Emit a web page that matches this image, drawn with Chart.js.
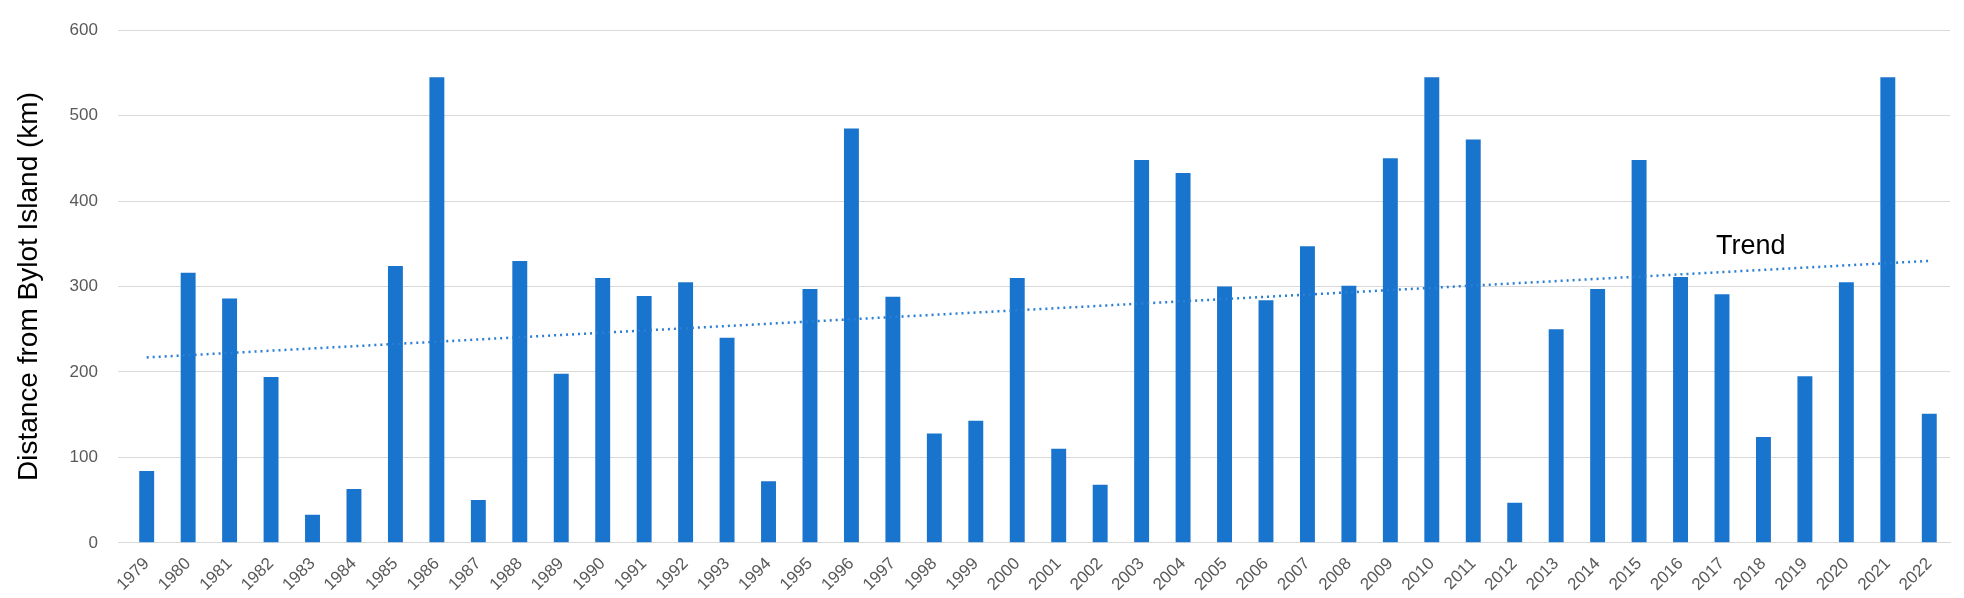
<!DOCTYPE html>
<html><head><meta charset="utf-8">
<script src="https://cdn.jsdelivr.net/npm/chart.js@4"></script>
<style>html,body{margin:0;padding:0;background:#fff}#w{width:1964px;height:598px}</style>
</head><body><div id="w"><canvas id="c"></canvas></div>
<script>
const years = ["1979","1980","1981","1982","1983","1984","1985","1986","1987","1988","1989","1990","1991","1992","1993","1994","1995","1996","1997","1998","1999","2000","2001","2002","2003","2004","2005","2006","2007","2008","2009","2010","2011","2012","2013","2014","2015","2016","2017","2018","2019","2020","2021","2022"];
const distances = [84,316,286,194,33,63,324,545,50,330,198,310,289,305,240,72,297,485,288,128,143,310,110,68,448,433,300,284,347,301,450,545,472,47,250,297,448,311,291,124,195,305,545,151];
const trendStart = 217, trendEnd = 330;
const trend = years.map((y,i)=> i===0 ? trendStart : (i===years.length-1 ? trendEnd : null));
const yTicks = [0,100,200,300,400,500,600];

const labelPlugin = {id:'lbl', afterDatasetsDraw(ch){
  const {ctx, scales:{x,y}} = ch;
  ctx.save(); ctx.font='27px "Liberation Sans", Arial'; ctx.fillStyle='#000';
  ctx.textAlign='center'; ctx.textBaseline='middle';
  ctx.fillText('Trend', (x.getPixelForValue(38)+x.getPixelForValue(39))/2 + 8, y.getPixelForValue(347));
  ctx.restore();
}};

new Chart(document.getElementById('c'), {
  data:{labels:years, datasets:[
    {type:'bar', data:distances, backgroundColor:'#1874cd', categoryPercentage:0.36, barPercentage:1, order:2},
    {type:'line', data:trend, spanGaps:true, borderColor:'#2a7fd4', borderWidth:2.5, borderDash:[2,4], pointRadius:0, fill:false, order:1}
  ]},
  options:{responsive:true, maintainAspectRatio:false, animation:false,
    layout:{padding:{left:8,right:14,top:12,bottom:0}},
    plugins:{legend:{display:false}, tooltip:{enabled:false}},
    scales:{
      x:{grid:{display:false}, border:{color:'#d9d9d9'},
         ticks:{color:'#595959', font:{size:17, family:'"Liberation Sans", Arial'}, maxRotation:45, minRotation:45, autoSkip:false}},
      y:{min:0, max:600, afterBuildTicks:a=>{a.ticks=yTicks.map(v=>({value:v}));},
         grid:{color:'#d9d9d9'}, border:{display:false},
         ticks:{color:'#595959', font:{size:17, family:'"Liberation Sans", Arial'}, padding:20},
         title:{display:true, text:'Distance from Bylot Island (km)', color:'#000', font:{size:28, family:'"Liberation Sans", Arial'}}}
    }},
  plugins:[labelPlugin]
});
</script></body></html>
